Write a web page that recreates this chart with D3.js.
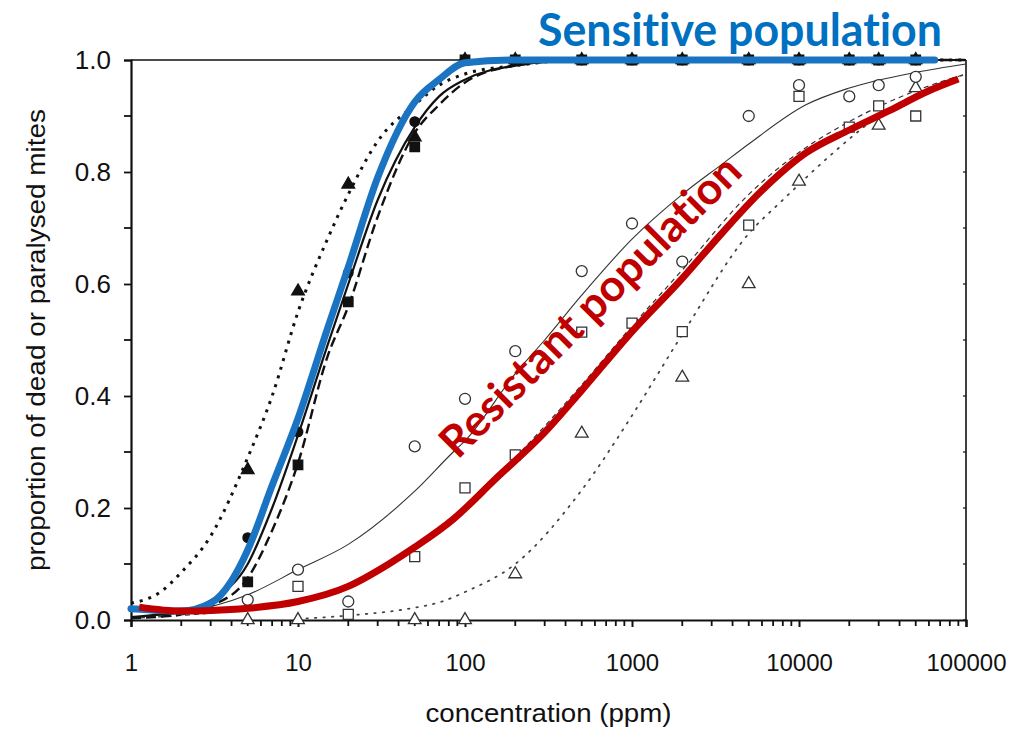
<!DOCTYPE html>
<html>
<head>
<meta charset="utf-8">
<script src="https://cdn.jsdelivr.net/npm/d3@7"></script>
<style>
  html, body { margin: 0; padding: 0; background: #fff; }
  svg { display: block; }
  text { font-variant-ligatures: none; }
</style>
</head>
<body>
<svg id="chart" width="1017" height="730"></svg>
<script>
// ---------------- DATA ----------------
const concentrations = [5, 10, 20, 50, 100, 200, 500, 1000, 2000, 5000, 10000, 20000, 30000, 50000];

// Sensitive population (filled markers)
const sensTriangles = [0.268, 0.587, 0.778, 0.862, 1, 1, 1, 1, 1, 1, 1, 1, 1, 1];
const sensCircles   = [0.147, 0.336, 0.62, 0.89, 1, 1, 1, 1, 1, 1, 1, 1, 1, 1];
const sensSquares   = [0.068, 0.277, 0.568, 0.845, 1, 1, 1, 1, 1, 1, 1, 1, 1, 1];

// Resistant population (open markers)
const resCircles   = [0.036, 0.09, 0.033, 0.31, 0.395, 0.48, 0.623, 0.708, 0.64, 0.9, 0.955, 0.935, 0.955, 0.97];
const resSquares   = [null, 0.06, 0.01, 0.113, 0.236, 0.295, 0.514, 0.53, 0.515, 0.705, 0.935, 0.88, 0.918, 0.9];
const resTriangles = [0, 0, null, 0, 0, 0.082, 0.333, null, 0.433, 0.6, 0.783, null, 0.883, 0.95];

// Fitted curves: [concentration, proportion]
const sensDottedCurve = [[1,0.03],[1.5,0.05],[2,0.085],[3,0.15],[5,0.29],[7,0.4],[10,0.55],[15,0.68],[20,0.76],[30,0.855],[50,0.92],[70,0.955],[100,0.975],[200,0.99],[500,1],[100000,1]];
const sensSolidCurve  = [[1,0.005],[1.5,0.01],[2,0.015],[3,0.035],[5,0.1],[7,0.2],[10,0.33],[15,0.49],[20,0.6],[30,0.75],[50,0.88],[70,0.935],[100,0.965],[200,0.99],[500,1],[100000,1]];
const sensDashedCurve = [[1,0.003],[1.5,0.006],[2,0.01],[3,0.025],[5,0.075],[7,0.16],[10,0.28],[15,0.47],[20,0.56],[30,0.72],[50,0.87],[70,0.92],[100,0.96],[200,0.99],[500,1],[100000,1]];

const resSolidCurve  = [[1,0.005],[2,0.013],[5,0.045],[10,0.09],[20,0.135],[50,0.23],[85,0.3],[100,0.32],[200,0.44],[300,0.5],[500,0.58],[1000,0.68],[2000,0.76],[3500,0.815],[5000,0.85],[11000,0.92],[20000,0.95],[50000,0.978],[100000,0.993]];
const resDashedCurve = [[1,0.003],[5,0.02],[10,0.035],[20,0.065],[50,0.135],[100,0.2],[200,0.29],[500,0.42],[1000,0.525],[2000,0.625],[5000,0.76],[10000,0.835],[20000,0.89],[50000,0.945],[100000,0.975]];
const resDottedCurve = [[10,0.002],[20,0.008],[50,0.022],[71,0.032],[100,0.05],[200,0.1],[500,0.232],[1000,0.365],[2000,0.51],[5000,0.69],[8000,0.75],[16000,0.834],[30000,0.9],[60000,0.95],[100000,0.975]];

// Highlight lines
const sensitiveLine = [[1,0.02],[1.5,0.017],[2,0.016],[3,0.03],[4,0.07],[5,0.125],[7,0.24],[10,0.36],[15,0.52],[20,0.63],[30,0.79],[50,0.925],[70,0.965],[100,0.995],[200,1],[1000,1],[65000,1]];
const resistantLine = [[1.12,0.023],[2,0.016],[3,0.017],[5,0.021],[10,0.033],[20,0.06],[35,0.1],[50,0.13],[85,0.18],[150,0.25],[300,0.335],[500,0.41],[1000,0.515],[2000,0.61],[3000,0.67],[6000,0.767],[11000,0.834],[20000,0.875],[35000,0.91],[60000,0.945],[90000,0.966]];

// Axis ticks
const xTickValues = [1, 10, 100, 1000, 10000, 100000];
const xTickLabels = ["1", "10", "100", "1000", "10000", "100000"];
const yTickValues = [0, 0.2, 0.4, 0.6, 0.8, 1.0];
const yTickLabels = ["0.0", "0.2", "0.4", "0.6", "0.8", "1.0"];
const yMinorTicks = [0.1, 0.3, 0.5, 0.7, 0.9];

// Text
const xTitle = "concentration (ppm)";
const yTitle = "proportion of dead or paralysed mites";
const sensitiveLabel = "Sensitive population";
const resistantLabel = "Resistant population";

// ---------------- CHART ----------------
(function () {
const svg = d3.select("#chart");
const mLeft = 131, mRight = 966, mTop = 60, mBottom = 620;
const x = d3.scaleLog().domain([1, 100000]).range([mLeft, mRight]);
const y = d3.scaleLinear().domain([0, 1]).range([mBottom, mTop]);

const axisColor = "#111";
const tickFont = "'Liberation Sans', Arial, Helvetica, sans-serif";

// frame (top & right)
svg.append("line").attr("x1", x(1)).attr("x2", x(100000)).attr("y1", y(1)).attr("y2", y(1))
  .attr("stroke", axisColor).attr("stroke-width", 1.6);
svg.append("line").attr("x1", x(100000)).attr("x2", x(100000)).attr("y1", y(1)).attr("y2", y(0))
  .attr("stroke", axisColor).attr("stroke-width", 1.6);
svg.append("g").selectAll("line").data(yTickValues.concat(yMinorTicks)).join("line")
  .attr("x1", x(100000) - 3).attr("x2", x(100000)).attr("y1", d => y(d)).attr("y2", d => y(d))
  .attr("stroke", axisColor).attr("stroke-width", 1.2);

// x axis
const xAxis = d3.axisBottom(x).tickValues(xTickValues)
  .tickFormat((d, i) => xTickLabels[i]).tickSize(7).tickPadding(27);
const gx = svg.append("g").attr("transform", `translate(0,${mBottom})`).call(xAxis);
gx.select(".domain").attr("stroke", axisColor).attr("stroke-width", 2.2);
gx.selectAll(".tick line").attr("stroke", axisColor).attr("stroke-width", 2);
gx.selectAll("text").attr("font-family", tickFont).attr("font-size", 24).attr("fill", "#111");

const xMinor = [];
xTickValues.slice(0, -1).forEach(dec => { for (let k = 2; k <= 9; k++) xMinor.push(dec * k); });
svg.append("g").selectAll("line").data(xMinor).join("line")
  .attr("x1", d => x(d)).attr("x2", d => x(d)).attr("y1", mBottom).attr("y2", mBottom + 6)
  .attr("stroke", axisColor).attr("stroke-width", 1.8);

// y axis
const yAxis = d3.axisLeft(y).tickValues(yTickValues)
  .tickFormat((d, i) => yTickLabels[i]).tickSize(7).tickPadding(13);
const gy = svg.append("g").attr("transform", `translate(${mLeft},0)`).call(yAxis);
gy.select(".domain").attr("stroke", axisColor).attr("stroke-width", 2.2);
gy.selectAll(".tick line").attr("stroke", axisColor).attr("stroke-width", 1.8);
gy.selectAll("text").attr("font-family", tickFont).attr("font-size", 26).attr("fill", "#111");
svg.append("g").selectAll("line").data(yMinorTicks).join("line")
  .attr("x1", mLeft - 7).attr("x2", mLeft).attr("y1", d => y(d)).attr("y2", d => y(d))
  .attr("stroke", axisColor).attr("stroke-width", 1.8);

// axis titles
svg.append("text").attr("x", (mLeft + mRight) / 2).attr("y", 722)
  .attr("text-anchor", "middle").attr("font-family", tickFont).attr("font-size", 25).attr("fill", "#111")
  .attr("textLength", 246).attr("lengthAdjust", "spacingAndGlyphs")
  .text(xTitle);
svg.append("text").attr("transform", "translate(45,340) rotate(-90)")
  .attr("text-anchor", "middle").attr("font-family", tickFont).attr("font-size", 25).attr("fill", "#111")
  .attr("textLength", 462).attr("lengthAdjust", "spacingAndGlyphs")
  .text(yTitle);

// curves
const lineGen = d3.line().x(d => x(d[0])).y(d => y(d[1])).curve(d3.curveMonotoneX);
const plot = svg.append("g");
function drawCurve(data, opts) {
  plot.append("path").attr("d", lineGen(data)).attr("fill", "none")
    .attr("stroke", opts.color || "#111").attr("stroke-width", opts.width)
    .attr("stroke-dasharray", opts.dash || null)
    .attr("stroke-linecap", opts.cap || "butt");
}
drawCurve(resSolidCurve, { width: 1.1, color: "#333" });
drawCurve(resDashedCurve, { width: 1.2, color: "#333", dash: "5,4" });
drawCurve(resDottedCurve, { width: 1.8, color: "#444", dash: "1.5,7", cap: "round" });
drawCurve(sensSolidCurve, { width: 2.2 });
drawCurve(sensDashedCurve, { width: 2.4, dash: "10,5" });
drawCurve(sensDottedCurve, { width: 3, dash: "3,6" });

// markers
function pts(vals) {
  return concentrations.map((c, i) => ({ c, v: vals[i] })).filter(d => d.v !== null);
}
function drawMarkers(vals, shape, filled, size) {
  const g = plot.append("g");
  const data = pts(vals);
  const fill = filled ? "#111" : "#fff";
  const stroke = filled ? "#111" : "#333";
  if (shape === "circle") {
    g.selectAll("circle").data(data).join("circle")
      .attr("cx", d => x(d.c)).attr("cy", d => y(d.v)).attr("r", size)
      .attr("fill", fill).attr("stroke", stroke).attr("stroke-width", 1.3);
  } else {
    const sym = d3.symbol().type(shape === "tri" ? d3.symbolTriangle : d3.symbolSquare).size(size);
    g.selectAll("path").data(data).join("path")
      .attr("transform", d => `translate(${x(d.c)},${y(d.v)})`)
      .attr("d", sym())
      .attr("fill", fill).attr("stroke", stroke).attr("stroke-width", 1.3);
  }
}
drawMarkers(resTriangles, "tri", false, 70);
drawMarkers(resSquares, "square", false, 100);
drawMarkers(resCircles, "circle", false, 5.5);
drawMarkers(sensTriangles, "tri", true, 70);
drawMarkers(sensCircles, "circle", true, 4.8);
drawMarkers(sensSquares, "square", true, 90);

// highlight lines
drawCurve(sensitiveLine, { width: 7, color: "#1a74c2", cap: "round" });
drawCurve(resistantLine, { width: 7, color: "#c00000", cap: "butt" });

// annotations
const annFont = "Lato, 'Open Sans', sans-serif";
svg.append("text").attr("x", 740).attr("y", 46).attr("text-anchor", "middle")
  .attr("font-family", annFont).attr("font-weight", 700).attr("font-size", 45)
  .attr("fill", "#0070c0").attr("textLength", 404).attr("lengthAdjust", "spacingAndGlyphs")
  .text(sensitiveLabel);
svg.append("text").attr("transform", "translate(601,317) rotate(-45)").attr("text-anchor", "middle")
  .attr("font-family", annFont).attr("font-weight", 700).attr("font-size", 44)
  .attr("fill", "#c00000").attr("textLength", 405).attr("lengthAdjust", "spacingAndGlyphs")
  .text(resistantLabel);
})();
</script>
</body>
</html>
